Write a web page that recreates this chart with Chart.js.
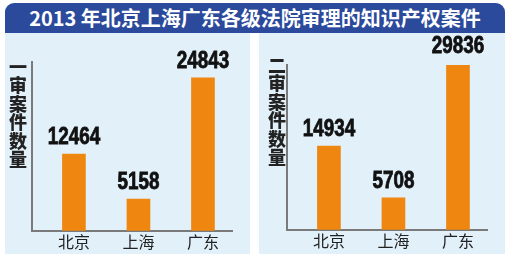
<!DOCTYPE html>
<html>
<head>
<meta charset="utf-8">
<script src="https://cdn.jsdelivr.net/npm/chart.js@4/dist/chart.umd.min.js"></script>
<style>
  body { margin: 0; width: 508px; height: 260px; background: #fff; position: relative; overflow: hidden; font-family: "Noto Sans CJK SC", sans-serif; }
  #title { position: absolute; left: 5px; top: 3px; width: 500px; height: 30px; background: #2b4a9b; border-radius: 9px 9px 0 0; color: #fff; font-weight: bold; font-size: 20px; line-height: 30px; text-align: center; }
  .panel { position: absolute; top: 33px; height: 221px; background: #e2f0fa; }
  #p1 { left: 5px; width: 245px; }
  #p2 { left: 259px; width: 246px; }
  .panel canvas { position: absolute; left: 0; top: 0; }
  .ytitle { position: absolute; writing-mode: vertical-rl; font-weight: 900; font-size: 18px; letter-spacing: 0.5px; color: #222; line-height: 1; }
  #t1 { left: 4px; top: 25px; }
  #t2 { left: 9px; top: 23px; }
</style>
</head>
<body>
<div id="title">2013 年北京上海广东各级法院审理的知识产权案件</div>
<div class="panel" id="p1"><canvas id="c1" width="245" height="221"></canvas><div class="ytitle" id="t1">一审案件数量</div></div>
<div class="panel" id="p2"><canvas id="c2" width="246" height="221"></canvas><div class="ytitle" id="t2">二审案件数量</div></div>
<script>
// Data
const cities = ["北京", "上海", "广东"];
const firstInstance = [12464, 5158, 24843];
const secondInstance = [14934, 5708, 29836];

const barColor = '#ee8610';
const axisColor = '#7a7a7a';

// value labels above the bars (narrow heavy digits)
const valueLabels = {
    id: 'valueLabels',
    afterDatasetsDraw(chart) {
        const ctx = chart.ctx;
        const meta = chart.getDatasetMeta(0);
        meta.data.forEach((bar, i) => {
            const v = chart.data.datasets[0].data[i].y;
            ctx.save();
            ctx.font = "bold 23px 'Liberation Sans', sans-serif";
            ctx.fillStyle = '#111';
            ctx.strokeStyle = '#111';
            ctx.lineWidth = 0.8;
            ctx.textAlign = 'center';
            ctx.textBaseline = 'alphabetic';
            ctx.translate(bar.x, bar.y - 10);
            ctx.scale(0.82, 1);
            ctx.fillText(String(v), 0, 0);
            ctx.strokeText(String(v), 0, 0);
            ctx.restore();
        });
    }
};

function makeChart(id, values, yMax, pad) {
    new Chart(document.getElementById(id), {
        type: 'bar',
        data: {
            datasets: [{
                data: values.map((v, i) => ({ x: i, y: v })),
                backgroundColor: barColor,
                barThickness: 23
            }]
        },
        options: {
            responsive: false,
            animation: false,
            layout: { padding: pad },
            plugins: { legend: { display: false }, tooltip: { enabled: false } },
            scales: {
                x: {
                    type: 'linear',
                    offset: false,
                    min: -0.65,
                    max: 2.45,
                    afterBuildTicks: (scale) => { scale.ticks = cities.map((c, i) => ({ value: i })); },
                    ticks: {
                        callback: (v) => cities[v],
                        color: '#222',
                        font: { size: 16, family: "'Noto Sans CJK SC'" },
                        padding: 2
                    },
                    grid: { display: false, drawTicks: false, offset: false },
                    border: { display: true, color: axisColor, width: 2 }
                },
                y: {
                    min: 0,
                    max: yMax,
                    ticks: { display: false },
                    grid: { display: false, drawTicks: false },
                    border: { display: true, color: axisColor, width: 2 }
                }
            }
        },
        plugins: [valueLabels]
    });
}

makeChart('c1', firstInstance, 27400, { left: 27, top: 29, right: 18, bottom: 0 });
makeChart('c2', secondInstance, 29400, { left: 28, top: 32, right: 18, bottom: 1 });
</script>
</body>
</html>
